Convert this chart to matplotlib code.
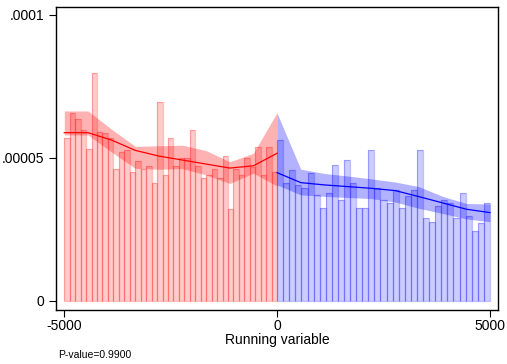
import matplotlib
matplotlib.use("Agg")
import matplotlib.pyplot as plt
import numpy as np

plt.rcParams["font.family"] = ["Liberation Sans", "DejaVu Sans"]
plt.rcParams["axes.unicode_minus"] = False

# histogram heights (x 1e-5), left and right of the cutoff
left_hist = [5.68, 6.56, 6.37, 5.96, 5.30, 7.96, 5.90, 5.86, 5.70, 4.60,
             5.19, 5.27, 4.49, 4.87, 4.60, 4.70, 4.12, 6.95, 4.40, 5.69,
             4.70, 4.98, 4.98, 5.96, 4.70, 4.30, 4.40, 4.60, 4.28, 5.08,
             3.20, 4.60, 4.40, 4.98, 4.69, 5.38, 4.40, 5.38, 4.49]
right_hist = [5.61, 4.10, 4.56, 4.05, 3.93, 4.47, 3.68, 3.23, 3.75, 4.74,
              3.51, 4.91, 4.10, 3.23, 3.23, 5.26, 3.93, 3.51, 3.40, 3.86,
              3.23, 3.65, 3.86, 5.26, 2.88, 2.76, 3.32, 3.51, 3.40, 2.88,
              3.75, 2.95, 2.42, 2.70, 3.40]

# density estimate and confidence band on a grid (x 1e-5)
left_grid = [-5000, -4444, -3889, -3333, -2778, -2222, -1667, -1111, -556, 0]
left_fit = [5.88, 5.88, 5.62, 5.26, 5.06, 4.92, 4.78, 4.64, 4.72, 5.16]
left_hi = [6.64, 6.64, 6.00, 5.40, 5.42, 5.44, 5.25, 4.86, 5.16, 6.59]
left_lo = [5.80, 5.80, 5.20, 4.63, 4.60, 4.62, 4.40, 4.10, 4.46, 4.01]

right_grid = [0, 556, 1111, 1667, 2222, 2778, 3333, 3889, 4444, 5000]
right_fit = [4.48, 4.13, 4.05, 3.99, 3.93, 3.85, 3.64, 3.42, 3.20, 3.08]
right_hi = [6.56, 4.60, 4.45, 4.36, 4.26, 4.15, 3.99, 3.65, 3.40, 3.38]
right_lo = [4.05, 3.70, 3.65, 3.61, 3.57, 3.45, 3.23, 3.05, 2.86, 2.76]

scale = 1e-5

fig = plt.figure(figsize=(5.07, 3.64), dpi=100)
ax = fig.add_axes([56 / 507, 1 - 310 / 364, 442 / 507, 303 / 364])


def draw_side(hist, lo_edge, hi_edge, grid, fit, hi, lo, col):
    n = len(hist)
    w = (hi_edge - lo_edge) / n
    edges = lo_edge + w * np.arange(n)
    ax.bar(edges, np.array(hist) * scale, width=w, align="edge",
           color=col, alpha=0.2, edgecolor="none", zorder=1)
    ax.bar(edges, np.array(hist) * scale, width=w, align="edge",
           fill=False, edgecolor=col, alpha=0.25, linewidth=0.9, zorder=1)
    ax.fill_between(grid, np.array(lo) * scale, np.array(hi) * scale,
                    color=col, alpha=0.3, linewidth=0, zorder=2)
    ax.plot(grid, np.array(fit) * scale, color=col, linewidth=0.9, zorder=3)


draw_side(left_hist, -5000, 0, left_grid, left_fit, left_hi, left_lo, "red")
draw_side(right_hist, 0, 5000, right_grid, right_fit, right_hi, right_lo, "blue")

ax.set_xlim(-5195, 5190)
ax.set_ylim(-3.3e-6, 1.028e-4)
ax.set_xticks([-5000, 0, 5000])
ax.set_yticks([0, 0.00005, 0.0001])
ax.set_yticklabels(["0", ".00005", ".0001"])
ax.tick_params(direction="out", length=5, width=0.8, labelsize=10, colors="black")
ax.tick_params(axis="x", pad=1.5)
for s in ax.spines.values():
    s.set_linewidth(1.0)
ax.set_xlabel("Running variable", fontsize=10, labelpad=0)

fig.text(58 / 507, 1 - 355 / 364, "P-value=0.9900", fontsize=7.5, va="center")

fig.savefig("out.png", dpi=100)
